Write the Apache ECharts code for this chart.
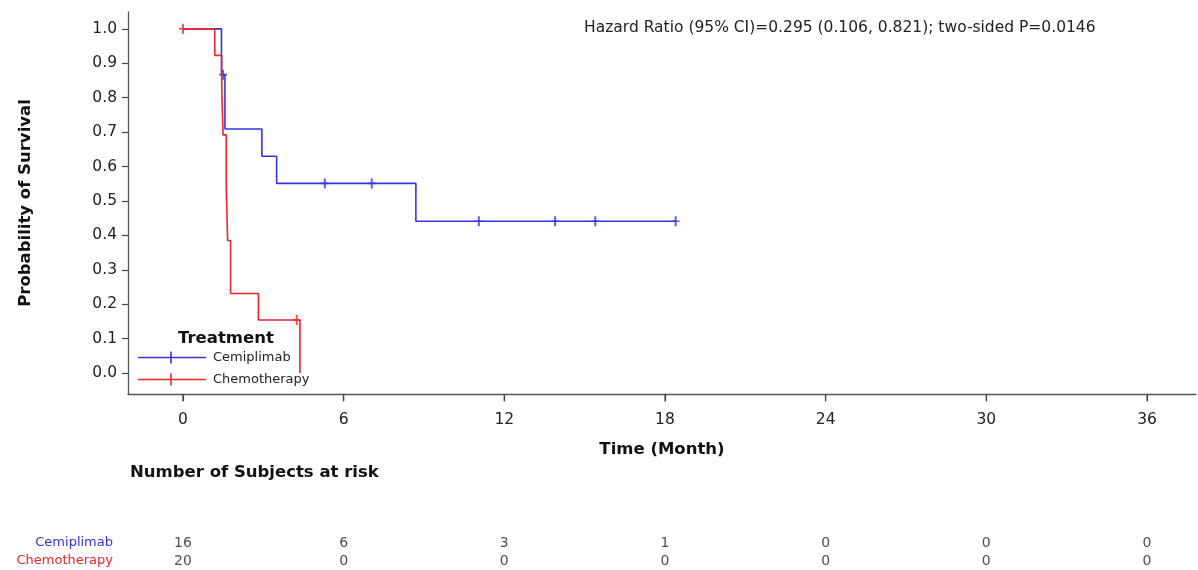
<!DOCTYPE html>
<html>
<head>
<meta charset="utf-8">
<script src="https://cdn.jsdelivr.net/npm/echarts@6/dist/echarts.min.js"></script>
<style>
  html, body { margin: 0; padding: 0; background: #fff; }
  #chart { width: 1198px; height: 570px; }
</style>
</head>
<body>
<div id="chart"></div>
<script>
// Kaplan-Meier steps
const cemiTime = [0, 1.44, 1.57, 2.95, 3.5, 8.7, 18.4];
const cemiSurv = [1, 0.867, 0.709, 0.630, 0.551, 0.441, 0.441];
const cemiCensorTime = [1.5, 5.3, 7.05, 11.05, 13.9, 15.4, 18.4];
const cemiCensorSurv = [0.867, 0.551, 0.551, 0.441, 0.441, 0.441, 0.441];

const chemoTime = [0, 1.19, 1.45, 1.47, 1.5, 1.62, 1.67, 1.78, 2.82, 4.37];
const chemoSurv = [1, 0.923, 0.846, 0.769, 0.692, 0.538, 0.385, 0.231, 0.154, 0];
const chemoCensorTime = [0, 4.25];
const chemoCensorSurv = [1, 0.154];

// number at risk table
const riskTimes = [0, 6, 12, 18, 24, 30, 36];
const cemiRisk = [16, 6, 3, 1, 0, 0, 0];
const chemoRisk = [20, 0, 0, 0, 0, 0, 0];

const xTicks = [0, 6, 12, 18, 24, 30, 36];
const yTicks = [0, 0.1, 0.2, 0.3, 0.4, 0.5, 0.6, 0.7, 0.8, 0.9, 1.0];

const X_MIN = -2.05, X_MAX = 37.83;
const Y_MIN = -0.061, Y_MAX = 1.049;

const BLUE = '#3434e0';
const RED = '#e8262c';
const FONT = 'DejaVu Sans, Verdana, sans-serif';
// censor mark: 8 wide, 10 tall
const plus = 'path://M3,0 L5,0 L5,4.2 L8,4.2 L8,5.8 L5,5.8 L5,10 L3,10 L3,5.8 L0,5.8 L0,4.2 L3,4.2 Z';
const tickMark = 'path://M0,0 L1,0 L1,7 L0,7 Z';
const legendIcon = 'path://M0,5.25 L68,5.25 L68,6.75 L0,6.75 Z M32.2,0 L33.8,0 L33.8,12 L32.2,12 Z';

const zip = (a, b) => a.map((v, i) => [v, b[i]]);

const myChart = echarts.init(document.getElementById('chart'));

const option = {
  animation: false,
  textStyle: { fontFamily: FONT },
  grid: [
    { left: 128, right: 2, top: 12, height: 382 },
    { left: 128, right: 2, top: 534, height: 40 }
  ],
  legend: {
    data: ['Cemiplimab', 'Chemotherapy'],
    orient: 'vertical',
    left: 133,
    top: 346,
    padding: 5,
    icon: legendIcon,
    itemWidth: 68,
    itemHeight: 12,
    itemGap: 9,
    textStyle: { fontSize: 13, color: '#222', fontFamily: FONT, padding: [0, 0, 0, 2] }
  },
  graphic: [
    {
      type: 'text', left: 584, top: 20,
      style: { text: 'Hazard Ratio (95% CI)=0.295 (0.106, 0.821); two-sided P=0.0146', fontSize: 15.5, fill: '#222', fontFamily: FONT }
    },
    {
      type: 'text', left: 178, top: 330,
      style: { text: 'Treatment', fontSize: 16.5, fontWeight: 'bold', fill: '#111', fontFamily: FONT }
    },
    {
      type: 'text', left: 130, top: 464,
      style: { text: 'Number of Subjects at risk', fontSize: 16.5, fontWeight: 'bold', fill: '#111', fontFamily: FONT }
    }
  ],
  xAxis: [
    {
      type: 'value', gridIndex: 0, min: X_MIN, max: X_MAX,
      name: 'Time (Month)', nameLocation: 'middle', nameGap: 47,
      nameTextStyle: { fontSize: 16.5, fontWeight: 'bold', color: '#111' },
      axisLine: { show: true, onZero: false, lineStyle: { color: '#555', width: 1.3 } },
      axisTick: { show: true, customValues: xTicks, length: 7, lineStyle: { color: '#444', width: 1.2 } },
      axisLabel: { show: true, customValues: xTicks, margin: 18, fontSize: 15.5, color: '#222' },
      splitLine: { show: false }
    },
    {
      type: 'value', gridIndex: 1, min: X_MIN, max: X_MAX,
      show: false
    }
  ],
  yAxis: [
    {
      type: 'value', gridIndex: 0, min: Y_MIN, max: Y_MAX,
      name: 'Probability of Survival', nameLocation: 'middle', nameGap: 94,
      nameTextStyle: { fontSize: 16.5, fontWeight: 'bold', color: '#111' },
      axisLine: { show: true, onZero: false, lineStyle: { color: '#555', width: 1.3 } },
      axisTick: { show: true, customValues: yTicks, length: 6, lineStyle: { color: '#444', width: 1.2 } },
      axisLabel: { customValues: yTicks, margin: 11, fontSize: 15.5, color: '#222', formatter: v => v.toFixed(1) },
      splitLine: { show: false }
    },
    {
      type: 'category', gridIndex: 1, data: ['Chemotherapy', 'Cemiplimab'],
      axisLine: { show: false }, axisTick: { show: false }, splitLine: { show: false },
      axisLabel: {
        margin: 15, fontSize: 13,
        formatter: v => v === 'Cemiplimab' ? '{b|' + v + '}' : '{r|' + v + '}',
        rich: { b: { color: BLUE, fontSize: 13 }, r: { color: RED, fontSize: 13 } }
      }
    }
  ],
  series: [
    {
      name: 'Cemiplimab', type: 'line', step: 'end', xAxisIndex: 0, yAxisIndex: 0,
      symbol: 'none', data: zip(cemiTime, cemiSurv),
      itemStyle: { color: BLUE }, lineStyle: { color: BLUE, width: 1.6 }
    },
    {
      name: 'Chemotherapy', type: 'line', step: 'end', xAxisIndex: 0, yAxisIndex: 0,
      symbol: 'none', data: zip(chemoTime, chemoSurv),
      itemStyle: { color: RED }, lineStyle: { color: RED, width: 1.6 }
    },
    {
      name: 'cemiCensor', type: 'scatter', xAxisIndex: 0, yAxisIndex: 0,
      symbol: plus, symbolSize: [8, 10], data: zip(cemiCensorTime, cemiCensorSurv),
      itemStyle: { color: BLUE }
    },
    {
      name: 'chemoCensor', type: 'scatter', xAxisIndex: 0, yAxisIndex: 0,
      symbol: plus, symbolSize: [8, 10], data: zip(chemoCensorTime, chemoCensorSurv),
      itemStyle: { color: RED }
    },
    {
      // x axis tick marks, hung from the bottom edge of the plot
      name: 'xTickMarks', type: 'scatter', xAxisIndex: 0, yAxisIndex: 0,
      silent: true, clip: false,
      symbol: tickMark, symbolSize: [1.3, 7], symbolOffset: [0, 4],
      data: xTicks.map(t => [t, Y_MIN]),
      itemStyle: { color: '#444' }
    },
    {
      name: 'cemiRisk', type: 'scatter', xAxisIndex: 1, yAxisIndex: 1,
      symbolSize: 1, itemStyle: { color: 'rgba(0,0,0,0)' },
      data: riskTimes.map((t, i) => [t, 'Cemiplimab', cemiRisk[i]]),
      label: { show: true, position: 'inside', formatter: p => p.value[2], fontSize: 14, color: '#222' }
    },
    {
      name: 'chemoRisk', type: 'scatter', xAxisIndex: 1, yAxisIndex: 1,
      symbolSize: 1, itemStyle: { color: 'rgba(0,0,0,0)' },
      data: riskTimes.map((t, i) => [t, 'Chemotherapy', chemoRisk[i]]),
      label: { show: true, position: 'inside', formatter: p => p.value[2], fontSize: 14, color: '#222' }
    }
  ]
};

myChart.setOption(option);
</script>
</body>
</html>
